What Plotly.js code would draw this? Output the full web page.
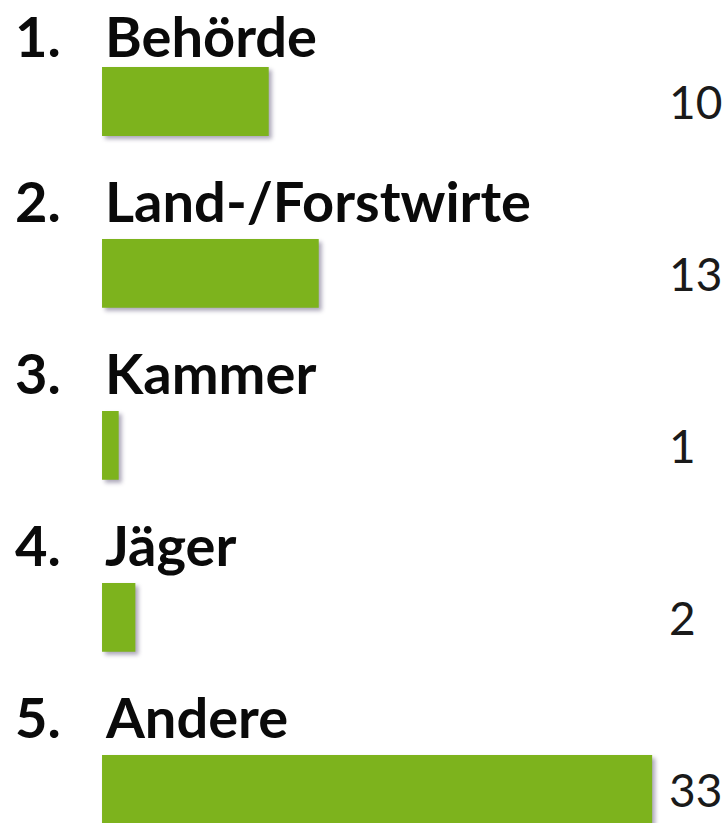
<!DOCTYPE html>
<html>
<head>
<meta charset="utf-8">
<script src="https://cdn.plot.ly/plotly-3.0.1.min.js"></script>
<style>
  html, body { margin: 0; padding: 0; background: #ffffff; }
  #chart { width: 728px; height: 823px; }
  .bars .point path { filter: drop-shadow(3px 3px 2px rgba(70, 60, 100, 0.45)); }
</style>
</head>
<body>
<div id="chart"></div>
<script>
const ranks = ["1.", "2.", "3.", "4.", "5."];
const categories = ["Behörde", "Land-/Forstwirte", "Kammer", "Jäger", "Andere"];
const values = [10, 13, 1, 2, 33];

const labelFont = { family: "Lato, 'Open Sans', sans-serif", size: 56, color: "#0a0a0a", weight: 700 };
const valueFont = { family: "Lato, 'Open Sans', sans-serif", size: 46, color: "#1a1a1a", weight: 400 };

const annotations = [];
categories.forEach((c, i) => {
  const lift = i === 0 ? 66 : 73;
  annotations.push({
    xref: "paper", yref: "y", x: 14 / 728, y: c, xanchor: "left", yanchor: "middle",
    yshift: lift, text: "<b>" + ranks[i] + "</b>", showarrow: false, font: labelFont, borderpad: 0
  });
  annotations.push({
    xref: "paper", yref: "y", x: 104 / 728, y: c, xanchor: "left", yanchor: "middle",
    yshift: lift, text: "<b>" + c + "</b>", showarrow: false, font: labelFont, borderpad: 0
  });
  annotations.push({
    xref: "paper", yref: "y", x: 667 / 728, y: c, xanchor: "left", yanchor: "middle",
    yshift: 0, text: String(values[i]), showarrow: false, font: valueFont
  });
});

const trace = {
  type: "bar",
  orientation: "h",
  x: values,
  y: categories,
  width: 0.4,
  marker: { color: "#7db31d", line: { width: 0 } },
  hoverinfo: "none"
};

const layout = {
  width: 728,
  height: 823,
  margin: { l: 0, r: 0, t: 0, b: 0, pad: 0 },
  paper_bgcolor: "#ffffff",
  plot_bgcolor: "#ffffff",
  showlegend: false,
  xaxis: { range: [-6.12, 37.55], visible: false, fixedrange: true },
  yaxis: {
    type: "category", categoryorder: "array", categoryarray: categories,
    range: [4.195, -0.59], visible: false, fixedrange: true
  },
  annotations: annotations
};

Plotly.newPlot("chart", [trace], layout, { displayModeBar: false, staticPlot: true });
</script>
</body>
</html>
